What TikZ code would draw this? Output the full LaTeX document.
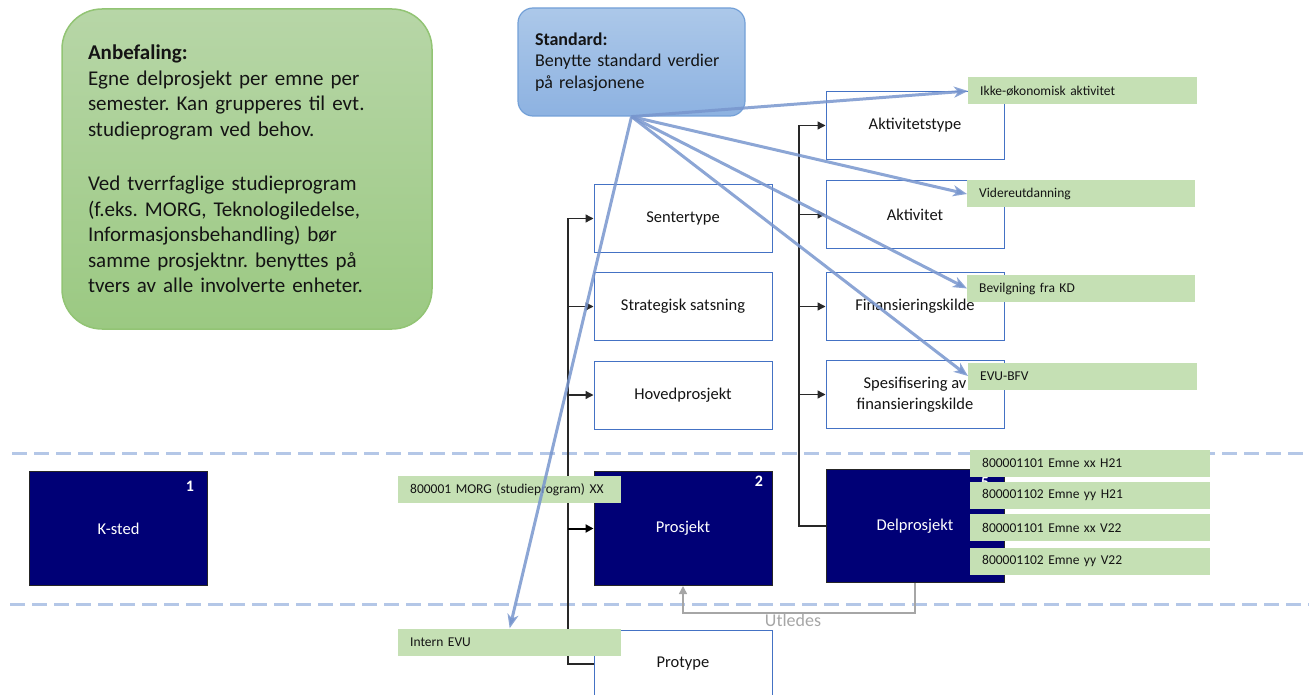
\documentclass[tikz,border=0pt]{standalone}
\usepackage{fontspec}
\setmainfont{Carlito}
\frenchspacing
\usetikzlibrary{arrows.meta,calc}
\definecolor{navyb}{RGB}{0,0,118}
\definecolor{boxblue}{RGB}{68,114,196}
\definecolor{lgreen}{RGB}{197,224,180}
\definecolor{dashc}{RGB}{180,199,231}
\definecolor{stdline}{RGB}{120,150,206}
\definecolor{connc}{RGB}{40,40,40}
\definecolor{greyc}{RGB}{166,166,166}
\definecolor{txt}{RGB}{20,20,20}
\tikzset{
  wbox/.style={draw=boxblue, line width=1pt, fill=white, minimum width=178pt, minimum height=68pt, align=center, inner sep=2pt, text=txt, font=\fontsize{16.5}{21}\selectfont},
  dbox/.style={draw=black!85, line width=1pt, fill=navyb, minimum width=178pt, minimum height=114pt, text=white, font=\fontsize{16.5}{20}\selectfont},
  num/.style={text=white, font=\fontsize{16}{18}\selectfont\bfseries, inner sep=0pt},
  glabel/.style={fill=lgreen, minimum height=27pt, inner xsep=12pt, inner ysep=0pt, align=left, anchor=west, text=txt, font=\fontsize{13.5}{16}\selectfont},
  conn/.style={draw=connc, line width=1.3pt, -{Triangle[length=8pt,width=8pt]}},
  stdl/.style={draw=stdline, line width=3pt, draw opacity=0.85, -{Stealth[length=14pt,width=11pt,inset=4pt]}},
  sep/.style={draw=dashc, line width=3pt, dash pattern=on 15pt off 7pt},
}
\begin{document}
\begin{tikzpicture}[x=1pt,y=-1pt]
\useasboundingbox (0,0) rectangle (1309,695);

% separator lines
\draw[sep] (12,453) -- (1309,453);
\draw[sep] (10,604) -- (1309,604);

% recommendation boxes
\node[rounded corners=40pt, top color={rgb,255:red,183;green,214;blue,167}, bottom color={rgb,255:red,155;green,201;blue,130}, draw={rgb,255:red,146;green,196;blue,116}, line width=1.5pt, minimum width=370pt, minimum height=320pt, text width=318pt, align=left, inner sep=0pt, text=txt, font=\fontsize{21}{25.5}\selectfont] (anbef) at (247,169)
{\textbf{Anbefaling:}\\Egne delprosjekt per emne per\\semester. Kan grupperes til evt.\\studieprogram ved behov.\\[29pt]Ved tverrfaglige studieprogram\\(f.eks. MORG, Teknologiledelse,\\Informasjonsbehandling) bør\\samme prosjektnr. benyttes på\\tvers av alle involverte enheter.};

\node[rounded corners=15pt, top color={rgb,255:red,172;green,200;blue,233}, bottom color={rgb,255:red,141;green,178;blue,225}, draw={rgb,255:red,115;green,160;blue,215}, line width=1.2pt, minimum width=227pt, minimum height=108pt, text width=193pt, align=left, inner sep=0pt, text=txt, font=\fontsize{18}{21.5}\selectfont] (standard) at (631.5,62)
{\textbf{Standard:}\\Benytte standard verdier\\på relasjonene};

% coordinates of the buses
\coordinate (busL) at (568,0);
\coordinate (busR) at (799,0);

% white boxes
\node[wbox] (sentertype) at (683,218.5) {Sentertype};
\node[wbox] (strat) at (683,306.5) {Strategisk satsning};
\node[wbox] (hoved) at (683,395) {Hovedprosjekt};
\node[wbox] (protype) at (683,664) {Protype};
\node[wbox] (akttype) at (915,125.5) {Aktivitetstype};
\node[wbox] (akt) at (915,214.5) {Aktivitet};
\node[wbox] (finans) at (915,306.5) {Finansieringskilde};
\node[wbox] (spes) at (915,394.5) {Spesifisering av\\finansieringskilde};

% dark boxes
\node[dbox] (ksted) at (118.5,528.5) {K-sted};
\node[dbox] (prosjekt) at (683,528.5) {Prosjekt};
\node[dbox, minimum height=113pt] (delprosjekt) at (915,526) {Delprosjekt};
\node[num] at (190,486) {1};
\node[num] at (759,481) {2};
\node[num] at (985,482) {5};

% black connectors, left bus
\draw[conn] (protype.west) -- (protype.west -| busL) -- (sentertype.west -| busL) -- (sentertype.west);
\draw[conn] (strat.west -| busL) -- (strat.west);
\draw[conn] (hoved.west -| busL) -- (hoved.west);
\draw[conn, draw=black, line width=2pt] (prosjekt.west -| busL) -- (prosjekt.west);
% right bus
\draw[conn] (delprosjekt.west) -- (delprosjekt.west -| busR) -- (akttype.west -| busR) -- (akttype.west);
\draw[conn] (akt.west -| busR) -- (akt.west);
\draw[conn] (finans.west -| busR) -- (finans.west);
\draw[conn] (spes.west -| busR) -- (spes.west);

% derived
\draw[draw=greyc, line width=1.5pt, -{Triangle[length=8pt,width=8pt]}] (delprosjekt.south) -- ++(0,30) -| (prosjekt.south);
\node[text=greyc, font=\fontsize{18}{20}\selectfont] (utledes) at (793,620) {Utledes};

% green labels
\node[glabel, minimum width=229pt, text width=205pt] (ikke) at (968,91) {Ikke-økonomisk aktivitet};
\node[glabel, minimum width=228pt, text width=204pt] (videre) at (967,194) {Videreutdanning};
\node[glabel, minimum width=228pt, text width=204pt] (bevilg) at (967,288.5) {Bevilgning fra KD};
\node[glabel, minimum width=229pt, text width=205pt] (evubfv) at (968,376) {EVU-BFV};
\node[glabel, minimum width=223pt, text width=199pt] (morg) at (398,489.5) {800001 MORG (studieprogram) XX};
\node[glabel, minimum width=223pt, text width=199pt] (intern) at (398,642) {Intern EVU};
\node[glabel, minimum width=240pt, text width=216pt] (d1) at (970,463) {800001101 Emne xx H21};
\node[glabel, minimum width=240pt, text width=216pt] (d2) at (970,495) {800001102 Emne yy H21};
\node[glabel, minimum width=240pt, text width=216pt] (d3) at (970,527.5) {800001101 Emne xx V22};
\node[glabel, minimum width=240pt, text width=216pt] (d4) at (970,561) {800001102 Emne yy V22};

% standard value lines
\draw[stdl] (standard.south) -- (ikke.west);
\draw[stdl] (standard.south) -- (videre.west);
\draw[stdl] (standard.south) -- (bevilg.west);
\draw[stdl] (standard.south) -- (evubfv.west);
\draw[stdl] (standard.south) -- (intern.north);
\end{tikzpicture}
\end{document}
